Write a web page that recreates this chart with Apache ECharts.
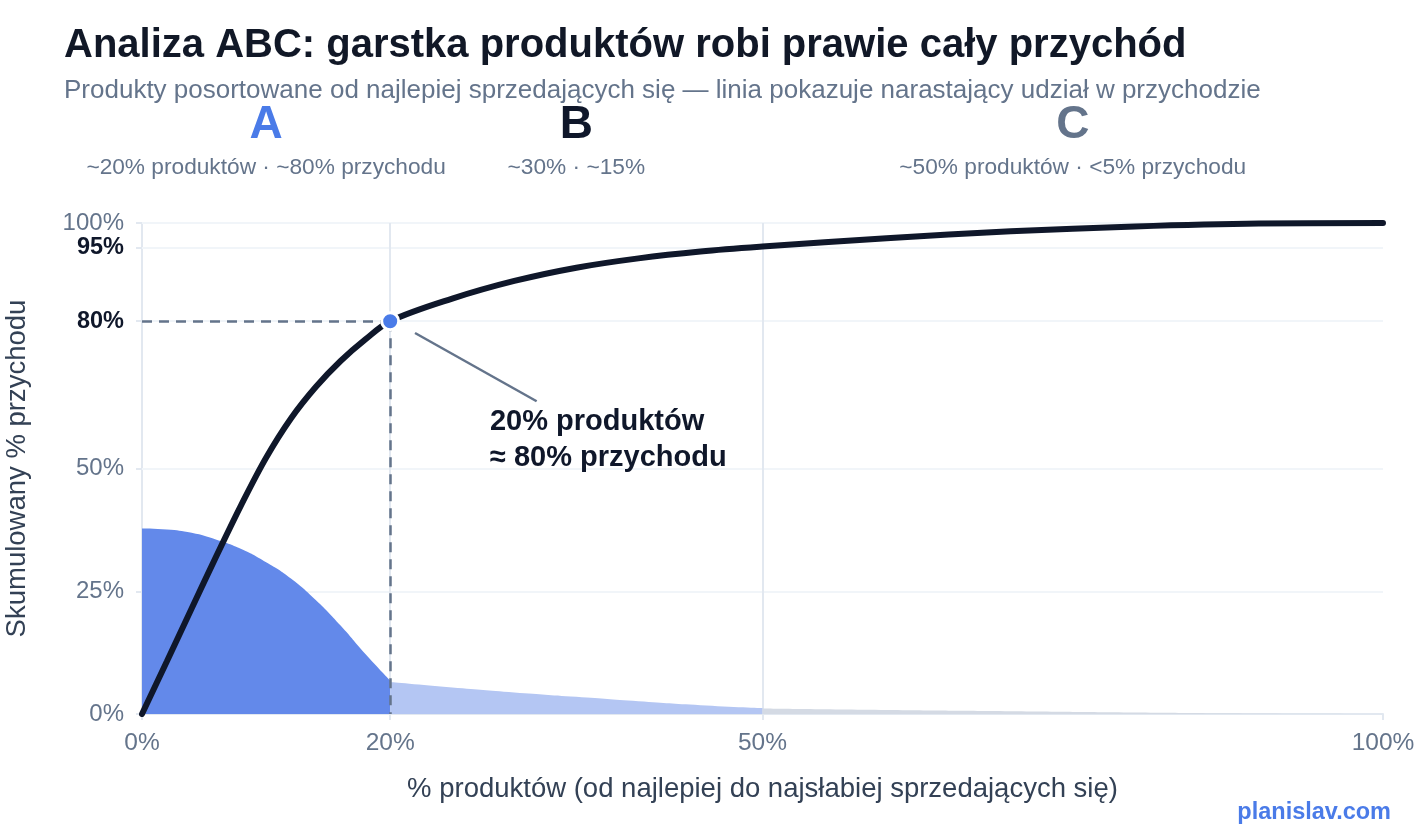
<!DOCTYPE html>
<html>
<head>
<meta charset="utf-8">
<title>Analiza ABC</title>
<script src="https://cdn.jsdelivr.net/npm/echarts@6/dist/echarts.min.js"></script>
<style>
  html, body { margin: 0; padding: 0; background: #fff; }
  #chart { width: 1424px; height: 840px; }
</style>
</head>
<body>
<div id="chart"></div>
<script>
// skumulowany udział w przychodzie (% produktów -> % przychodu)
const cumX = [0, 2, 4, 6, 8, 10, 12, 14, 16, 18, 20, 25, 30, 35, 40, 45, 50, 60, 70, 80, 90, 100];
const cumY = [0, 10.7, 21.5, 32.2, 42.6, 52.2, 60.2, 66.6, 71.9, 76.3, 80, 84.6, 88.2, 90.9, 92.8, 94.2, 95.2, 96.9, 98.3, 99.3, 99.9, 100];

// przychód na produkt (rozkład) w trzech klasach
const aX = [0, 2, 4, 6, 8, 10, 12, 14, 16, 18, 20];
const aY = [37.8, 37.6, 36.9, 35.5, 33.6, 30.9, 27.6, 23.2, 18.0, 12.2, 6.8];
const bX = [20, 25, 30, 35, 40, 45, 50];
const bY = [6.5, 5.4, 4.4, 3.5, 2.6, 1.8, 1.2];
const cX = [50, 60, 70, 80, 90, 100];
const cY = [1.1, 0.8, 0.55, 0.3, 0.1, 0];

// klasy ABC
const classNames = ['A', 'B', 'C'];
const classMid = [10, 35, 75];
const classNotes = ['~20% produktów · ~80% przychodu', '~30% · ~15%', '~50% produktów · <5% przychodu'];
const classColors = ['#4a7be8', '#0f172a', '#64748b'];

const xTicks = [0, 20, 50, 100];
const yTicks = [0, 25, 50, 80, 95, 100];
const yBold = [80, 95];

const FONT = 'Liberation Sans, Arial, sans-serif';

function pairs(xs, ys) {
    return xs.map((x, i) => [x, ys[i]]);
}

const chart = echarts.init(document.getElementById('chart'), null, { renderer: 'canvas' });

const option = {
    animation: false,
    backgroundColor: '#fff',
    textStyle: { fontFamily: FONT },
    title: [
        {
            text: 'Analiza ABC: garstka produktów robi prawie cały przychód',
            left: 64, top: 26, padding: 0,
            textStyle: { fontSize: 40, fontWeight: 'bold', color: '#111827', fontFamily: FONT, lineHeight: 40 }
        },
        {
            text: 'Produkty posortowane od najlepiej sprzedających się — linia pokazuje narastający udział w przychodzie',
            left: 64, top: 78, padding: 0,
            textStyle: { fontSize: 26, fontWeight: 'normal', color: '#64748b', fontFamily: FONT, lineHeight: 26 }
        }
    ],
    grid: { left: 142, right: 41, top: 223, bottom: 126, outerBoundsMode: 'none' },
    xAxis: {
        type: 'value', min: 0, max: 100,
        name: '% produktów (od najlepiej do najsłabiej sprzedających się)',
        nameLocation: 'middle', nameGap: 61,
        nameTextStyle: { fontSize: 27.5, color: '#334155', fontFamily: FONT },
        splitLine: { show: false },
        axisLine: { show: true, lineStyle: { color: '#e2e8f0', width: 2 } },
        axisTick: { show: true, customValues: xTicks, length: 6, lineStyle: { color: '#e2e8f0', width: 2 } },
        axisLabel: {
            customValues: xTicks, formatter: '{value}%', margin: 17,
            fontSize: 24.5, color: '#64748b', fontFamily: FONT
        }
    },
    yAxis: {
        type: 'value', min: 0, max: 100,
        name: 'Skumulowany % przychodu',
        nameLocation: 'middle', nameGap: 111,
        nameTextStyle: { fontSize: 27.5, color: '#334155', fontFamily: FONT },
        splitLine: { show: false },
        axisLine: { show: true, lineStyle: { color: '#e2e8f0', width: 2 } },
        axisTick: { show: true, customValues: yTicks, length: 6, lineStyle: { color: '#e2e8f0', width: 2 } },
        axisLabel: {
            customValues: yTicks, margin: 18,
            fontSize: 24, color: '#64748b', fontFamily: FONT,
            formatter: function (v) {
                return yBold.indexOf(v) >= 0 ? '{b|' + v + '%}' : v + '%';
            },
            rich: { b: { fontSize: 23.5, fontWeight: 'bold', color: '#0f172a', fontFamily: FONT } }
        }
    },
    series: [
        {
            name: 'A', type: 'line', z: 2, smooth: 0.5,
            data: pairs(aX, aY), showSymbol: false, silent: true,
            lineStyle: { width: 0 },
            areaStyle: { color: '#6389ea', opacity: 1 },
            markLine: {
                silent: true, z: 1, symbol: ['none', 'none'], label: { show: false },
                data: [
                    { yAxis: 25, lineStyle: { color: '#f1f5f9', width: 2, type: 'solid' } },
                    { yAxis: 50, lineStyle: { color: '#f1f5f9', width: 2, type: 'solid' } },
                    { yAxis: 80, lineStyle: { color: '#f1f5f9', width: 2, type: 'solid' } },
                    { yAxis: 95, lineStyle: { color: '#f1f5f9', width: 2, type: 'solid' } },
                    { yAxis: 100, lineStyle: { color: '#f1f5f9', width: 2, type: 'solid' } },
                    { xAxis: 20, lineStyle: { color: '#e2e8f0', width: 2, type: 'solid' } },
                    { xAxis: 50, lineStyle: { color: '#e2e8f0', width: 2, type: 'solid' } }
                ]
            }
        },
        {
            name: 'B', type: 'line', z: 2, smooth: 0.5,
            data: pairs(bX, bY), showSymbol: false, silent: true,
            lineStyle: { width: 0 },
            areaStyle: { color: '#b4c6f3', opacity: 1 }
        },
        {
            name: 'C', type: 'line', z: 2, smooth: 0.5,
            data: pairs(cX, cY), showSymbol: false, silent: true,
            lineStyle: { width: 0 },
            areaStyle: { color: '#d4dae4', opacity: 1 }
        },
        {
            name: 'Skumulowany', type: 'line', z: 4, smooth: 0.35,
            data: pairs(cumX, cumY), showSymbol: false, silent: true,
            lineStyle: { width: 6, color: '#0f172a', cap: 'round' },
            markLine: {
                silent: true, z: 3, symbol: ['none', 'none'], label: { show: false },
                lineStyle: { color: '#64748b', width: 2.5, type: [10, 7] },
                data: [
                    [{ coord: [0, 80] }, { coord: [20, 80] }],
                    [{ coord: [20, 80] }, { coord: [20, 0] }],
                    [{ coord: [22.0, 77.6], lineStyle: { type: 'solid', width: 2.5, color: '#64748b' } },
                     { coord: [31.8, 63.7] }]
                ]
            },
            markPoint: {
                silent: true, z: 6, symbolSize: 0,
                data: [{
                    coord: [28.04, 55.8],
                    label: {
                        show: true, position: 'right', distance: 0,
                        formatter: '20% produktów\n≈ 80% przychodu',
                        fontSize: 29, fontWeight: 'bold', color: '#0f172a',
                        lineHeight: 36, fontFamily: FONT, align: 'left'
                    }
                }]
            }
        },
        {
            name: 'Punkt', type: 'scatter', z: 5, silent: true,
            data: [[20, 80]], symbolSize: 17,
            itemStyle: { color: '#4a7be8', borderColor: '#ffffff', borderWidth: 3, opacity: 1 }
        },
        {
            name: 'Klasy', type: 'scatter', z: 5, silent: true, symbolSize: 0,
            itemStyle: { opacity: 1 },
            data: classMid.map((x, i) => ({
                value: [x, 100],
                label: {
                    show: true, position: 'top', distance: 35,
                    formatter: '{L|' + classNames[i] + '}\n{n|' + classNotes[i] + '}',
                    rich: {
                        L: { fontSize: 46, fontWeight: 'bold', color: classColors[i], lineHeight: 46, fontFamily: FONT, align: 'center' },
                        n: { fontSize: 22.7, color: '#64748b', lineHeight: 40, fontFamily: FONT, align: 'center' }
                    }
                }
            }))
        }
    ],
    graphic: [
        {
            type: 'text', right: 33, top: 801,
            style: { text: 'planislav.com', font: 'bold 23.5px ' + FONT, fill: '#4a7be8' }
        }
    ]
};

chart.setOption(option);

window.addEventListener('resize', function () {
    chart.resize();
});
</script>
</body>
</html>
